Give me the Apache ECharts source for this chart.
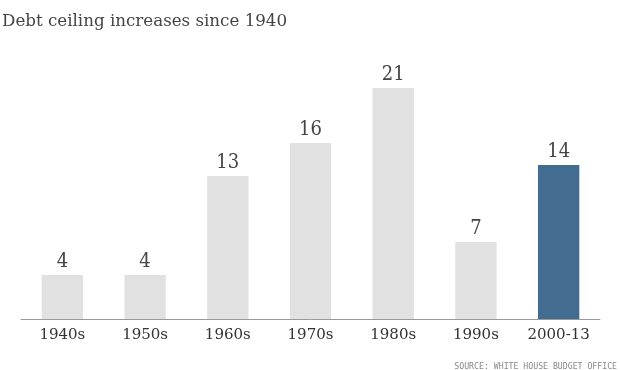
<!DOCTYPE html>
<html><head><meta charset="utf-8">
<script src="https://cdn.jsdelivr.net/npm/echarts@6/dist/echarts.min.js"></script>
<style>html,body{margin:0;padding:0;background:#fff}#c{width:620px;height:370px}</style>
</head><body><div id="c"></div>
<script>
const categories = ['1940s','1950s','1960s','1970s','1980s','1990s','2000-13'];
const increases = [4,4,13,16,21,7,14];
const highlightIndex = 6;
const serif = "'DejaVu Serif Condensed','DejaVu Serif'";
const chart = echarts.init(document.getElementById('c'));
chart.setOption({
  animation:false,
  backgroundColor:'#fff',
  title:[{text:'Debt ceiling increases since 1940',left:2,top:13,padding:0,textStyle:{fontFamily:'DejaVu Serif',fontWeight:'normal',fontSize:16.7,color:'#444'}},
         {text:'SOURCE: WHITE HOUSE BUDGET OFFICE',right:3,top:363,padding:0,textStyle:{fontFamily:'DejaVu Sans Mono',fontWeight:'normal',fontSize:8.2,color:'#888'}}],
  grid:{left:21,right:20,top:44,bottom:51},
  xAxis:{type:'category',data:categories,axisTick:{show:false},axisLine:{lineStyle:{color:'#999',width:1}},
    axisLabel:{fontFamily:'DejaVu Serif',fontSize:15,color:'#333',margin:9}},
  yAxis:{type:'value',min:0,max:25,show:false,splitLine:{show:false}},
  series:[{type:'bar',barWidth:'50%',
    data:increases.map((v,i)=>({value:v,itemStyle:{color:i===highlightIndex?'#436d90':'#e1e1e1'}})),
    label:{show:true,position:'top',distance:3,fontFamily:serif,fontSize:20,color:'#444'}}]
});
</script></body></html>
